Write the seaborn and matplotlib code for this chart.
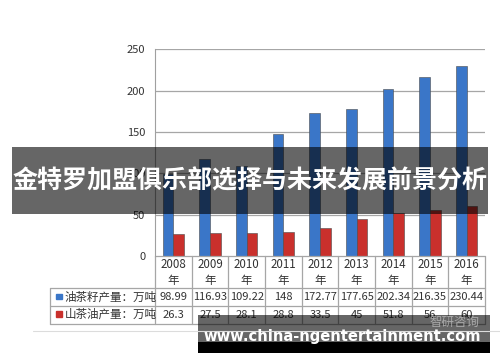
import pandas as pd
import matplotlib.pyplot as plt
import seaborn as sns
from matplotlib.patches import Rectangle

# Data
years = ['2008', '2009', '2010', '2011', '2012', '2013', '2014', '2015', '2016']
seed_output = [98.99, 116.93, 109.22, 148, 172.77, 177.65, 202.34, 216.35, 230.44]
oil_output = [26.3, 27.5, 28.1, 28.8, 33.5, 45, 51.8, 56, 60]
series_names = ['油茶籽产量：万吨', '山茶油产量：万吨']
series_colors = ['#3a76c8', '#c9302c']
y_ticks = [0, 50, 100, 150, 200, 250]

banner_text = '金特罗加盟俱乐部选择与未来发展前景分析'
site_text = 'www.china-ngentertainment.com'

df = pd.DataFrame({
    'year': years * 2,
    'value': seed_output + oil_output,
    'series': [series_names[0]] * len(years) + [series_names[1]] * len(years),
})

sns.set_style('white')
plt.rcParams['font.family'] = ['Noto Sans CJK SC', 'DejaVu Sans']

fig = plt.figure(figsize=(5, 3.62), dpi=100)
ax = fig.add_axes([0.31, 0.2928, 0.66, 0.5705])

sns.barplot(data=df, x='year', y='value', hue='series', palette=series_colors,
            saturation=1, width=0.58, edgecolor='#4a4a4a', linewidth=0.4,
            legend=False, ax=ax)

ax.set_xlim(-0.5, len(years) - 0.5)
ax.set_ylim(0, 250)
ax.set_yticks(y_ticks)
ax.set_yticklabels([str(t) for t in y_ticks], fontsize=8, color='#333333')
ax.tick_params(axis='y', length=0, pad=7)
ax.set_xticks([])
ax.set_xlabel('')
ax.set_ylabel('')
for t in y_ticks[1:]:
    ax.axhline(t, color='#a6a6a6', lw=0.9, zorder=0)
for s in ['top', 'right', 'bottom']:
    ax.spines[s].set_visible(False)
ax.spines['left'].set_color('#a0a0a0')

# data table under the plot (x in data units, y in axes units)
tr = ax.get_xaxis_transform()
line_kw = dict(color='#a6a6a6', lw=0.9, transform=tr, clip_on=False)
y_head, y_r1, y_r2, y_bot = 0.0, -0.155, -0.24, -0.327
x_left = -3.36
ax.plot([-0.5, len(years) - 0.5], [y_head, y_head], **line_kw)
for yy in [y_r1, y_r2, y_bot]:
    ax.plot([x_left, len(years) - 0.5], [yy, yy], **line_kw)
ax.plot([x_left, x_left], [y_r1, y_bot], **line_kw)
for i in range(len(years) + 1):
    ax.plot([i - 0.5, i - 0.5], [y_bot, 0], **line_kw)

for i, yr in enumerate(years):
    ax.text(i, (y_head + y_r1) / 2, yr + '\n年', ha='center', va='center',
            fontsize=8.3, color='#333333', transform=tr, linespacing=1.3)
    ax.text(i, (y_r1 + y_r2) / 2, f'{seed_output[i]:g}', ha='center', va='center',
            fontsize=8, color='#333333', transform=tr)
    ax.text(i, (y_r2 + y_bot) / 2, f'{oil_output[i]:g}', ha='center', va='center',
            fontsize=8, color='#333333', transform=tr)

for k, (yy0, yy1) in enumerate([(y_r1, y_r2), (y_r2, y_bot)]):
    yc = (yy0 + yy1) / 2
    ax.add_patch(Rectangle((x_left + 0.15, yc - 0.013), 0.17, 0.028,
                           color=series_colors[k], transform=tr, clip_on=False))
    ax.text(x_left + 0.4, yc, series_names[k], ha='left', va='center',
            fontsize=8.3, color='#333333', transform=tr)

# thin separator line below the chart
fig.add_artist(plt.Line2D([0.066, 1.0], [1 - 331 / 362, 1 - 331 / 362],
                          color='#dcdcdc', lw=0.8))

# title banner overlay
fig.add_artist(Rectangle((12 / 500, 1 - 214 / 362), 476 / 500, 67 / 362,
                         facecolor='black', alpha=0.6, edgecolor='none',
                         transform=fig.transFigure))
fig.text(0.5, 1 - 181 / 362, banner_text, ha='center', va='center',
         fontsize=18, fontweight='bold', color='white')

# site watermark
fig.text(455 / 500, 1 - 322 / 362, '智研咨询', ha='center', va='center',
         fontsize=9, color='#bbbbbb', alpha=0.8)
fig.add_artist(Rectangle((198 / 500, 1 - 342 / 362), 292 / 500, 27 / 362,
                         facecolor='black', alpha=0.6, edgecolor='none',
                         transform=fig.transFigure))
fig.add_artist(Rectangle((198 / 500, 1 - 353 / 362), 292 / 500, 11 / 362,
                         facecolor='black', edgecolor='none',
                         transform=fig.transFigure))
fig.text(342 / 500, 1 - 337 / 362, site_text, ha='center', va='center',
         fontsize=10.6, fontweight='bold', color='white', family='DejaVu Sans')

fig.savefig('out.png', dpi=100)
